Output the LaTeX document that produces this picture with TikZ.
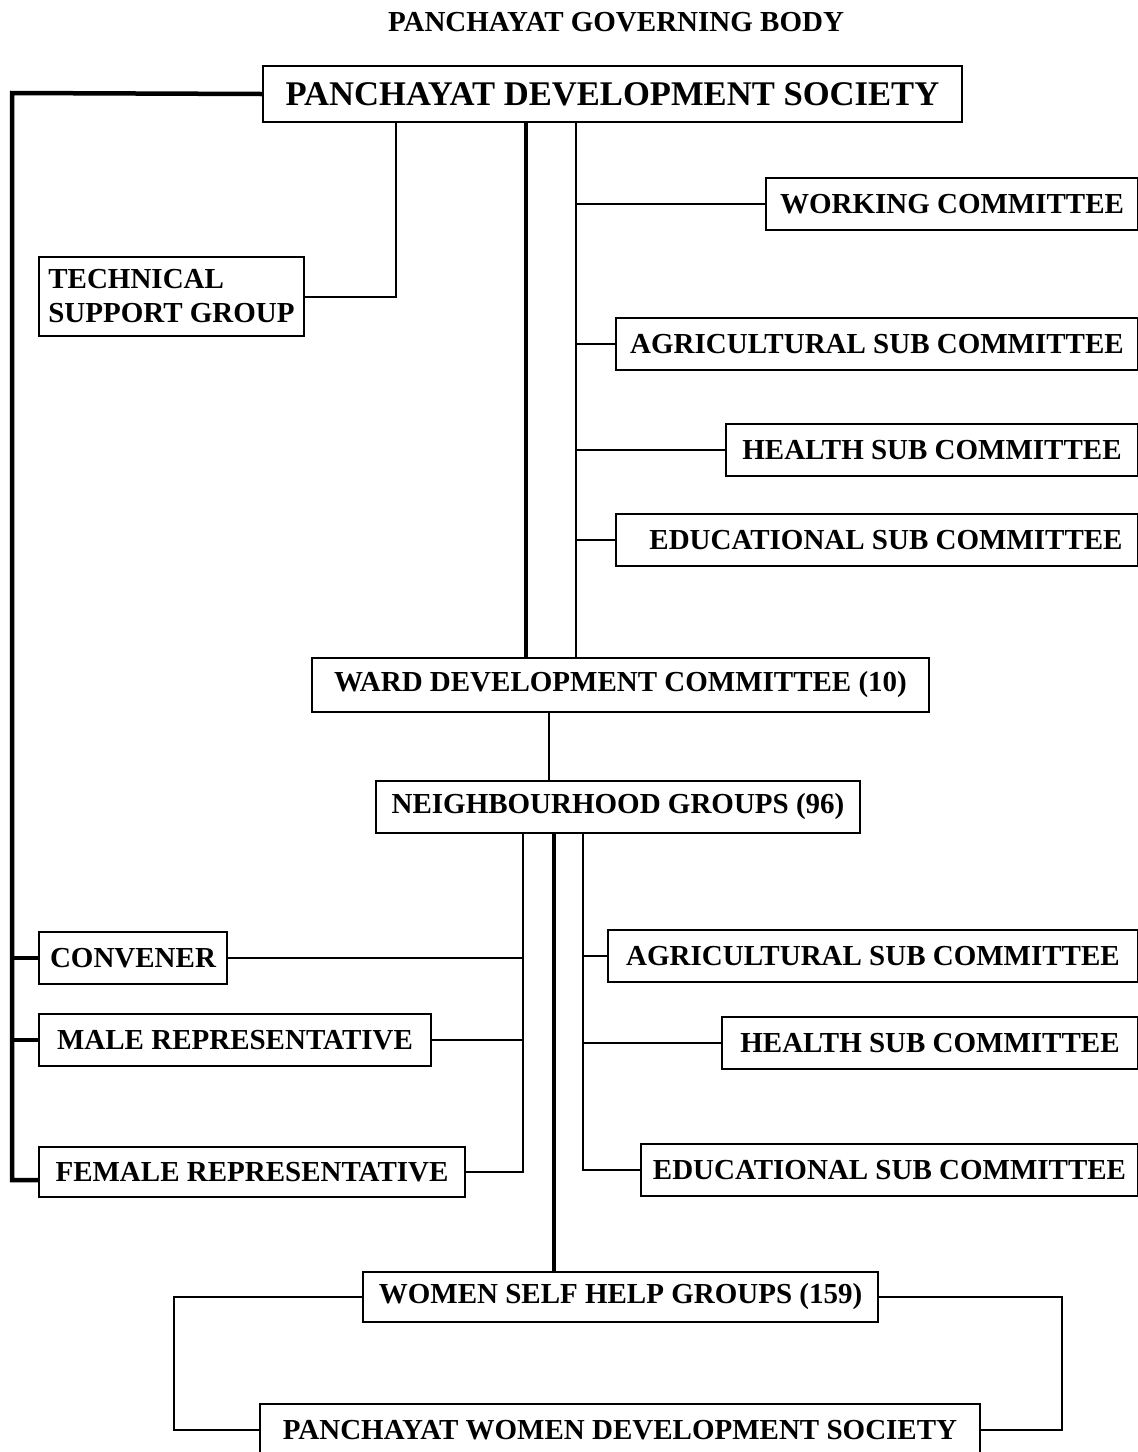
\documentclass[tikz,border=0pt]{standalone}
\usepackage{fontspec}
\setmainfont{Liberation Serif}
\usetikzlibrary{positioning}

\begin{document}
\begin{tikzpicture}[x=1pt, y=-1pt,
  orgbox/.style={draw, line width=2pt, inner sep=0pt, anchor=north west,
    minimum height=52pt, font=\fontsize{29}{34}\selectfont\bfseries},
  thinline/.style={line width=2pt},
  thickline/.style={line width=4.5pt}]
\useasboundingbox (0,0) rectangle (1138,1452);

\path (616,22) node[font=\fontsize{29}{34}\selectfont\bfseries] (title) {PANCHAYAT GOVERNING BODY};

\path (262,65) node[orgbox, minimum width=699pt, minimum height=56pt,
  font=\fontsize{34.6}{40}\selectfont\bfseries] (pds) {PANCHAYAT DEVELOPMENT SOCIETY\hspace{6pt}};

\path (38,256) node[orgbox, minimum width=265pt, minimum height=79pt, align=left] (tsg) {TECHNICAL\\SUPPORT GROUP};

\path (765,177) node[orgbox, minimum width=372pt] (work) {WORKING COMMITTEE};
\path (615,317) node[orgbox, minimum width=522pt] (agri) {AGRICULTURAL SUB COMMITTEE};
\path (725,423) node[orgbox, minimum width=412pt] (health) {HEALTH SUB COMMITTEE};
\path (615,513) node[orgbox, minimum width=522pt] (edu) {\hspace{18pt}EDUCATIONAL SUB COMMITTEE};

\path (311,657) node[orgbox, minimum width=617pt, minimum height=54pt] (wdc) {WARD DEVELOPMENT COMMITTEE (10)};
\path (375,780) node[orgbox, minimum width=484pt] (ng) {NEIGHBOURHOOD GROUPS (96)};

\path (38,931) node[orgbox, minimum width=188pt] (convener) {CONVENER};
\path (38,1013) node[orgbox, minimum width=392pt] (male) {MALE REPRESENTATIVE\hspace{14pt}};
\path (38,1146) node[orgbox, minimum width=426pt, minimum height=50pt] (female) {FEMALE REPRESENTATIVE};

\path (607,929) node[orgbox, minimum width=530pt] (agri2) {AGRICULTURAL SUB COMMITTEE};
\path (721,1016) node[orgbox, minimum width=416pt] (health2) {HEALTH SUB COMMITTEE};
\path (640,1143) node[orgbox, minimum width=497pt] (edu2) {EDUCATIONAL SUB COMMITTEE};

\path (362,1271) node[orgbox, minimum width=515pt, minimum height=50pt] (wshg) {WOMEN SELF HELP GROUPS (159)};
\path (259,1403) node[orgbox, minimum width=720pt] (pwds) {PANCHAYAT WOMEN DEVELOPMENT SOCIETY};

% tap points on the box edges
\coordinate (lefttop) at (12,93);
\coordinate (leftbot) at (12,1180);
\coordinate (tsgtap) at (396,121);
\coordinate (pdsthick) at (526,121);
\coordinate (pdsthin) at (576,121);
\coordinate (wdctap) at (549,711);
\coordinate (ngleft) at (523,832);
\coordinate (ngmid) at (554,832);
\coordinate (ngright) at (583,832);
\coordinate (loopleft) at (174,0);
\coordinate (loopright) at (1062,0);

\draw[thickline] (pds.west) -- (lefttop) -- (leftbot) -- (leftbot -| female.west);
\draw[thickline] (convener.west) -- (convener.west -| lefttop);
\draw[thickline] (male.west) -- (male.west -| lefttop);

\draw[thinline] (tsg.east) -| (tsgtap);

\draw[thickline] (pdsthick) -- (pdsthick |- wdc.north);
\draw[thinline] (pdsthin) -- (pdsthin |- wdc.north);
\draw[thinline] (work.west) -- (work.west -| pdsthin);
\draw[thinline] (agri.west) -- (agri.west -| pdsthin);
\draw[thinline] (health.west) -- (health.west -| pdsthin);
\draw[thinline] (edu.west) -- (edu.west -| pdsthin);

\draw[thinline] (wdctap) -- (wdctap |- ng.north);

\draw[thinline] (ngleft) |- (female.east);
\draw[thinline] (convener.east) -- (convener.east -| ngleft);
\draw[thinline] (male.east) -- (male.east -| ngleft);

\draw[thickline] (ngmid) -- (ngmid |- wshg.north);

\draw[thinline] (ngright) |- (edu2.west);
\draw[thinline] (agri2.west) -- (agri2.west -| ngright);
\draw[thinline] (health2.west) -- (health2.west -| ngright);

\draw[thinline] (wshg.west) -| (loopleft |- pwds.west) -- (pwds.west);
\draw[thinline] (wshg.east) -| (loopright |- pwds.east) -- (pwds.east);
\end{tikzpicture}
\end{document}
